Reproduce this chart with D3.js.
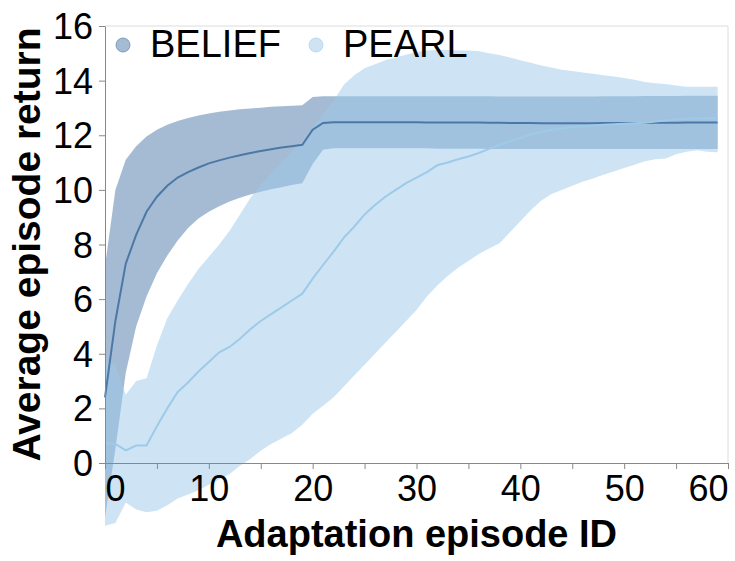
<!DOCTYPE html>
<html>
<head>
<meta charset="utf-8">
<script src="https://cdn.jsdelivr.net/npm/d3@7"></script>
<style>
  body { margin: 0; background: #fff; }
  svg { display: block; }
</style>
</head>
<body>
<div id="chart"></div>
<script>
// episode IDs on the x axis
const episodes = d3.range(0, 60);

// BELIEF: mean return and band edges
const beliefMean = [2.4, 5.2, 7.3, 8.35, 9.2, 9.75, 10.15, 10.45, 10.65, 10.82,
  10.97, 11.08, 11.18, 11.27, 11.35, 11.42, 11.49, 11.55, 11.6, 11.65,
  12.2, 12.45, 12.48, 12.48, 12.48, 12.48, 12.48, 12.48, 12.48, 12.48,
  12.48, 12.47, 12.47, 12.47, 12.47, 12.47, 12.47, 12.46, 12.46, 12.45,
  12.45, 12.45, 12.44, 12.44, 12.44, 12.44, 12.44, 12.44, 12.45, 12.45,
  12.45, 12.45, 12.45, 12.46, 12.46, 12.46, 12.47, 12.47, 12.47, 12.47];
const beliefUpper = [7.2, 10.0, 11.1, 11.6, 11.95, 12.2, 12.38, 12.52, 12.63, 12.72,
  12.8, 12.86, 12.91, 12.95, 12.98, 13.01, 13.04, 13.06, 13.08, 13.1,
  13.4, 13.43, 13.43, 13.43, 13.43, 13.43, 13.43, 13.43, 13.43, 13.43,
  13.43, 13.43, 13.43, 13.43, 13.43, 13.43, 13.43, 13.43, 13.42, 13.42,
  13.42, 13.42, 13.42, 13.42, 13.42, 13.42, 13.42, 13.42, 13.43, 13.43,
  13.43, 13.43, 13.44, 13.44, 13.44, 13.44, 13.45, 13.45, 13.45, 13.45];
const beliefLower = [-2.0, 0.5, 3.3, 5.0, 6.1, 6.95, 7.6, 8.15, 8.6, 8.95,
  9.2, 9.4, 9.57, 9.71, 9.83, 9.93, 10.02, 10.1, 10.18, 10.24,
  10.95, 11.47, 11.52, 11.52, 11.52, 11.52, 11.52, 11.52, 11.52, 11.52,
  11.52, 11.52, 11.51, 11.51, 11.51, 11.51, 11.51, 11.5, 11.5, 11.5,
  11.5, 11.5, 11.5, 11.5, 11.5, 11.5, 11.5, 11.5, 11.5, 11.5,
  11.5, 11.5, 11.5, 11.5, 11.5, 11.5, 11.5, 11.5, 11.5, 11.5];

// PEARL: mean return and band edges
const pearlMean = [0.73, 0.7, 0.46, 0.64, 0.64, 1.35, 2.0, 2.6, 2.95, 3.35,
  3.7, 4.05, 4.25, 4.55, 4.9, 5.2, 5.45, 5.7, 5.95, 6.2,
  6.75, 7.25, 7.73, 8.25, 8.65, 9.1, 9.45, 9.75, 10.0, 10.25,
  10.45, 10.65, 10.9, 11.0, 11.12, 11.22, 11.35, 11.5, 11.65, 11.78,
  11.9, 12.03, 12.12, 12.2, 12.25, 12.3, 12.33, 12.36, 12.38, 12.4,
  12.42, 12.44, 12.46, 12.5, 12.54, 12.58, 12.6, 12.61, 12.62, 12.62];
const pearlUpper = [3.75, 3.6, 2.5, 3.0, 3.1, 4.3, 5.3, 5.95, 6.55, 7.1,
  7.55, 8.0, 8.5, 9.1, 9.7, 10.2, 10.6, 11.0, 11.4, 11.8,
  12.3, 12.8, 13.25, 13.85, 14.2, 14.45, 14.6, 14.75, 14.85, 14.95,
  15.05, 15.1, 15.12, 15.12, 15.1, 15.1, 15.08, 15.0, 14.94, 14.85,
  14.75, 14.65, 14.55, 14.48, 14.4, 14.35, 14.3, 14.25, 14.2, 14.15,
  14.1, 14.03, 13.95, 13.9, 13.88, 13.82, 13.78, 13.78, 13.78, 13.78];
const pearlLower = [-2.3, -2.2, -1.45, -1.7, -1.8, -1.75, -1.55, -1.3, -1.15, -1.0,
  -0.8, -0.6, -0.4, -0.1, 0.15, 0.45, 0.7, 0.9, 1.1, 1.4,
  1.8, 2.1, 2.4, 2.8, 3.2, 3.6, 4.0, 4.4, 4.8, 5.2,
  5.6, 6.1, 6.5, 6.85, 7.15, 7.4, 7.65, 7.85, 8.05, 8.45,
  8.85, 9.25, 9.6, 9.85, 10.0, 10.15, 10.3, 10.42, 10.55, 10.67,
  10.8, 10.92, 11.05, 11.12, 11.15, 11.3, 11.4, 11.45, 11.4, 11.38];

const seriesNames = ['BELIEF', 'PEARL'];
const yTicks = [0, 2, 4, 6, 8, 10, 12, 14, 16];
const xTicks = [0, 5, 10, 15, 20, 25, 30, 35, 40, 45, 50, 55, 60];

const series = [
  { name: 'BELIEF', mean: beliefMean, lo: beliefLower, hi: beliefUpper },
  { name: 'PEARL', mean: pearlMean, lo: pearlLower, hi: pearlUpper }
];

const width = 735, height = 561;
const margin = { top: 26, right: 7, bottom: 98, left: 105 };
const font = '"Liberation Sans", Arial, sans-serif';

const color = d3.scaleOrdinal().domain(seriesNames).range(['#4c78a8', '#9ecae9']);

const x = d3.scaleLinear().domain([0, 60]).range([margin.left, width - margin.right]);
const y = d3.scaleLinear().domain([0, 16]).range([height - margin.bottom, margin.top]);

const svg = d3.select('#chart').append('svg')
  .attr('width', width)
  .attr('height', height)
  .attr('font-family', font);

// plot frame (top & right)
svg.append('path')
  .attr('d', `M${x(0)},${y(16)}H${x(60)}V${y(0)}`)
  .attr('fill', 'none')
  .attr('stroke', '#ddd');

// bands
const area = d3.area()
  .x((d, i) => x(episodes[i]))
  .y0(d => y(d[0]))
  .y1(d => y(d[1]));

svg.append('g').selectAll('path')
  .data(series)
  .join('path')
    .attr('d', s => area(s.lo.map((v, i) => [v, s.hi[i]])))
    .attr('fill', s => color(s.name))
    .attr('fill-opacity', 0.5);

// mean lines
const line = d3.line()
  .x((d, i) => x(episodes[i]))
  .y(d => y(d));

svg.append('g').selectAll('path')
  .data(series)
  .join('path')
    .attr('d', s => line(s.mean))
    .attr('fill', 'none')
    .attr('stroke', s => color(s.name))
    .attr('stroke-width', 2);

// x axis
const xAxis = svg.append('g')
  .attr('transform', `translate(0,${y(0)})`)
  .call(d3.axisBottom(x).tickValues(xTicks).tickSize(6).tickSizeOuter(0)
    .tickFormat(d => d % 10 === 0 ? d : ''));
xAxis.select('.domain').attr('stroke', '#888');
xAxis.selectAll('.tick line').attr('stroke', '#888');
xAxis.selectAll('.tick text')
  .attr('font-family', font)
  .attr('font-size', 36)
  .attr('fill', '#000')
  .attr('y', 38)
  .attr('dy', 0)
  .attr('text-anchor', d => d === 0 ? 'start' : d === 60 ? 'end' : 'middle');

// y axis
const yAxis = svg.append('g')
  .attr('transform', `translate(${x(0)},0)`)
  .call(d3.axisLeft(y).tickValues(yTicks).tickSize(6).tickSizeOuter(0));
yAxis.select('.domain').attr('stroke', '#888');
yAxis.selectAll('.tick line').attr('stroke', '#888');
yAxis.selectAll('.tick text')
  .attr('font-family', font)
  .attr('font-size', 36)
  .attr('fill', '#000')
  .attr('x', -12)
  .attr('dy', '0.35em');

// axis titles
svg.append('text')
  .attr('x', (x(0) + x(60)) / 2)
  .attr('y', 547)
  .attr('text-anchor', 'middle')
  .attr('font-size', 38)
  .attr('font-weight', 'bold')
  .text('Adaptation episode ID');

svg.append('text')
  .attr('transform', `translate(40,${(y(0) + y(16)) / 2}) rotate(-90)`)
  .attr('text-anchor', 'middle')
  .attr('font-size', 39)
  .attr('font-weight', 'bold')
  .text('Average episode return');

// legend
const legendX = [123, 316];
const legend = svg.append('g').selectAll('g')
  .data(seriesNames)
  .join('g')
    .attr('transform', (d, i) => `translate(${legendX[i]},45)`);

legend.append('circle')
  .attr('r', 7)
  .attr('fill', d => color(d))
  .attr('fill-opacity', 0.5)
  .attr('stroke', d => color(d))
  .attr('stroke-opacity', 0.6);

legend.append('text')
  .attr('x', 27)
  .attr('y', 12)
  .attr('font-size', 38)
  .text(d => d);
</script>
</body>
</html>
